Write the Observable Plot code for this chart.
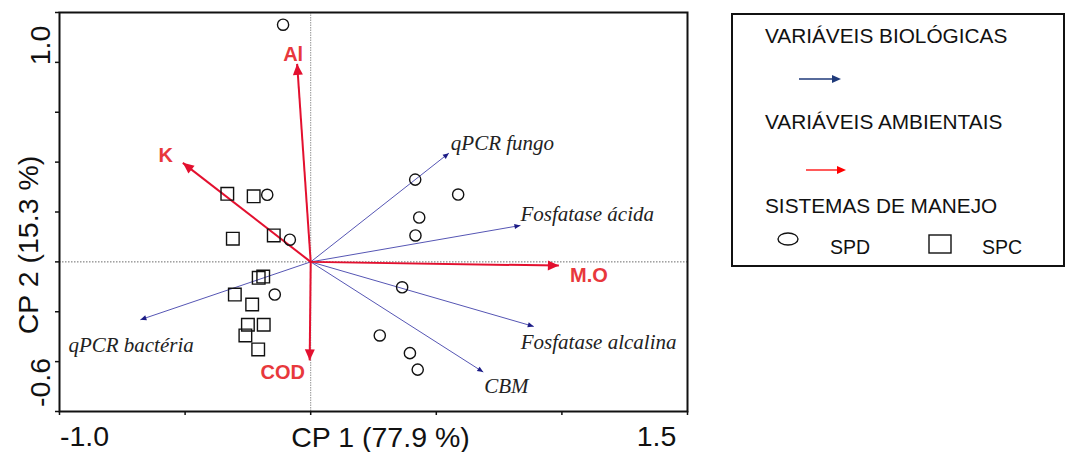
<!DOCTYPE html>
<html>
<head>
<meta charset="utf-8">
<script src="https://cdn.jsdelivr.net/npm/d3@7"></script>
<script src="https://cdn.jsdelivr.net/npm/@observablehq/plot@0.6"></script>
<style>
  body { margin: 0; background: #fff; }
  #wrap { position: relative; width: 1068px; height: 452px; overflow: hidden;
          font-family: Arial, "Liberation Sans", sans-serif; }
  #chart { position: absolute; left: 0; top: 0; }
  #legend { position: absolute; left: 731px; top: 13px; }
</style>
</head>
<body>
<div id="wrap"><div id="chart"></div><div id="legend"></div></div>
<script>
// Site scores: no-till (SPD) and conventional tillage (SPC)
const spdX = [-0.110, -0.173, -0.083, -0.143, 0.416, 0.587, 0.432, 0.417, 0.364, 0.275, 0.395, 0.426];
const spdY = [0.951, 0.269, 0.089, -0.131, 0.330, 0.270, 0.178, 0.106, -0.102, -0.295, -0.366, -0.432];
const spcX = [-0.332, -0.227, -0.310, -0.147, -0.207, -0.189, -0.302, -0.233, -0.250, -0.187, -0.260, -0.209];
const spcY = [0.273, 0.263, 0.093, 0.106, -0.064, -0.059, -0.131, -0.171, -0.252, -0.252, -0.295, -0.351];

// Biological variables (blue vectors)
const bioNames = ["qPCR fungo", "Fosfatase ácida", "Fosfatase alcalina", "CBM", "qPCR bactéria"];
const bioX = [0.550, 0.835, 0.888, 0.687, -0.678];
const bioY = [0.436, 0.146, -0.259, -0.442, -0.232];

// Environmental variables (red vectors)
const envNames = ["Al", "K", "M.O", "COD"];
const envX = [-0.054, -0.509, 0.988, -0.004];
const envY = [0.794, 0.397, -0.015, -0.395];

// Axes
const xTicks = [-1.0, -0.5, 0, 0.5, 1.0, 1.5];
const yTicks = [-0.6, -0.4, -0.2, 0, 0.2, 0.4, 0.6, 0.8, 1.0];
const xTitle = "CP 1 (77.9 %)";
const yTitle = "CP 2 (15.3 %)";

const spd = spdX.map((x, i) => ({x, y: spdY[i]}));
const spc = spcX.map((x, i) => ({x, y: spcY[i]}));
const bio = bioNames.map((name, i) => ({name, x: bioX[i], y: bioY[i]}));
const env = envNames.map((name, i) => ({name, x: envX[i], y: envY[i]}));

// Filled triangular arrowhead with its tip at the symbol origin, pointing up
const head = (len, half) => ({
  draw(ctx) { ctx.moveTo(0, 0); ctx.lineTo(-half, len); ctx.lineTo(half, len); ctx.closePath(); }
});
const angle = d => Math.atan2(d.x, d.y) * 180 / Math.PI;

const blueLine = "#5656b4", blueHead = "#1c1c86";
const redLine = "#e3102f", redText = "#e8383c";
const sans = 'Arial, "Liberation Sans", sans-serif';
const serif = '"Liberation Serif", "Times New Roman", serif';

// Label offsets (px) from each vector tip
const bioOff = {
  "qPCR fungo": {dx: 2, dy: -10},
  "Fosfatase ácida": {dx: 0, dy: -11},
  "Fosfatase alcalina": {dx: -13, dy: 16},
  "CBM": {dx: 1, dy: 14},
  "qPCR bactéria": {dx: -72, dy: 26}
};
const envOff = {
  "Al": {dx: -4, dy: -9},
  "K": {dx: -17, dy: -7},
  "M.O": {dx: 30, dy: 10},
  "COD": {dx: -27, dy: 12}
};

const axisText = {fontSize: 28.5, fill: "#111", textAnchor: "middle", lineAnchor: "middle"};

const chart = Plot.plot({
  width: 720,
  height: 452,
  marginLeft: 59,
  marginRight: 33,
  marginTop: 12,
  marginBottom: 41,
  x: {domain: [xTicks[0], xTicks[xTicks.length - 1]], axis: null},
  y: {domain: [yTicks[0], yTicks[yTicks.length - 1]], axis: null},
  style: {fontFamily: sans, background: "white", overflow: "visible"},
  marks: [
    Plot.ruleX([0], {stroke: "#888", strokeWidth: 0.9, strokeDasharray: "1.5,1"}),
    Plot.ruleY([0], {stroke: "#444", strokeWidth: 0.8, strokeDasharray: "1.5,1.5"}),

    // Biological vectors
    Plot.link(bio, {x1: 0, y1: 0, x2: "x", y2: "y", stroke: blueLine, strokeWidth: 1}),
    Plot.dot(bio, {x: "x", y: "y", symbol: head(6, 2.6), rotate: angle, fill: blueHead, stroke: "none"}),

    // Environmental vectors
    Plot.link(env, {x1: 0, y1: 0, x2: "x", y2: "y", stroke: redLine, strokeWidth: 2}),
    Plot.dot(env, {x: "x", y: "y", symbol: head(11, 5), rotate: angle, fill: redLine, stroke: "none"}),

    // Sites
    Plot.dot(spd, {x: "x", y: "y", symbol: "circle", r: 5.6, fill: "none", stroke: "#111", strokeWidth: 1.4}),
    Plot.dot(spc, {x: "x", y: "y", symbol: "square", r: 7.1, fill: "none", stroke: "#111", strokeWidth: 1.4}),

    // Vector labels
    ...bio.map(d => Plot.text([d], {
      x: "x", y: "y", text: "name", dx: bioOff[d.name].dx, dy: bioOff[d.name].dy,
      textAnchor: "start", fontFamily: serif, fontStyle: "italic",
      fontSize: 21, fill: "#222"
    })),
    ...env.map(d => Plot.text([d], {
      x: "x", y: "y", text: "name", dx: envOff[d.name].dx, dy: envOff[d.name].dy,
      fontFamily: sans, fontWeight: "bold", fontSize: 20, fill: redText
    })),

    // Tick marks
    Plot.axisX({ticks: xTicks, tickSize: 4, tickFormat: () => "", label: null, strokeWidth: 1.5, stroke: "#111"}),
    Plot.axisY({ticks: yTicks, tickSize: 4, tickFormat: () => "", label: null, strokeWidth: 1.5, stroke: "#111"}),

    // End labels of the axes
    Plot.text([xTicks[0]], {x: d => d, frameAnchor: "bottom", dx: 25, dy: 25, text: d => d.toFixed(1), ...axisText}),
    Plot.text([xTicks[xTicks.length - 1]], {x: d => d, frameAnchor: "bottom", dx: -31, dy: 25, text: d => d.toFixed(1), ...axisText}),
    Plot.text([yTicks[yTicks.length - 1]], {y: d => d, frameAnchor: "left", dx: -19, dy: 33, rotate: -90, text: d => d.toFixed(1), ...axisText}),
    Plot.text([yTicks[0]], {y: d => d, frameAnchor: "left", dx: -19, dy: -29, rotate: -90, text: d => d.toFixed(1), ...axisText}),

    // Axis titles
    Plot.text([xTitle], {frameAnchor: "bottom", dx: 7, dy: 26, text: d => d, ...axisText}),
    Plot.text([yTitle], {frameAnchor: "left", dx: -31, dy: 33, rotate: -90, text: d => d, ...axisText}),

    Plot.frame({stroke: "#111", strokeWidth: 2})
  ]
});
document.getElementById("chart").append(chart);

// Legend box
const legendItems = {
  bio: "VARIÁVEIS BIOLÓGICAS",
  env: "VARIÁVEIS AMBIENTAIS",
  sys: "SISTEMAS DE MANEJO",
  spd: "SPD",
  spc: "SPC"
};
const lg = d3.select("#legend").append("svg").attr("width", 336).attr("height", 256)
  .style("font-family", sans);
lg.append("rect").attr("x", 1).attr("y", 1).attr("width", 332).attr("height", 252)
  .attr("fill", "white").attr("stroke", "#111").attr("stroke-width", 2);
const lt = (txt, x, y, size) => lg.append("text").attr("x", x).attr("y", y)
  .attr("fill", "#111").style("font-size", size + "px").text(txt);
const larrow = (x1, x2, y, color) => {
  lg.append("line").attr("x1", x1).attr("x2", x2 - 8).attr("y1", y).attr("y2", y)
    .attr("stroke", color).attr("stroke-width", 1.3);
  lg.append("path").attr("d", `M${x2},${y}L${x2 - 9},${y - 4}L${x2 - 9},${y + 4}Z`).attr("fill", color);
};
lt(legendItems.bio, 34, 30, 20.8);
larrow(68, 110, 66, "#1f3a7a");
lt(legendItems.env, 34, 116, 20.8);
larrow(75, 115, 157, "#ff0000");
lt(legendItems.sys, 34, 200, 20.8);
lg.append("ellipse").attr("cx", 57).attr("cy", 226).attr("rx", 10).attr("ry", 6)
  .attr("fill", "none").attr("stroke", "#111").attr("stroke-width", 1.4);
lt(legendItems.spd, 99, 241, 19.5);
lg.append("rect").attr("x", 198).attr("y", 222).attr("width", 22).attr("height", 18)
  .attr("fill", "none").attr("stroke", "#111").attr("stroke-width", 1.4);
lt(legendItems.spc, 251, 241, 19.5);
</script>
</body>
</html>
